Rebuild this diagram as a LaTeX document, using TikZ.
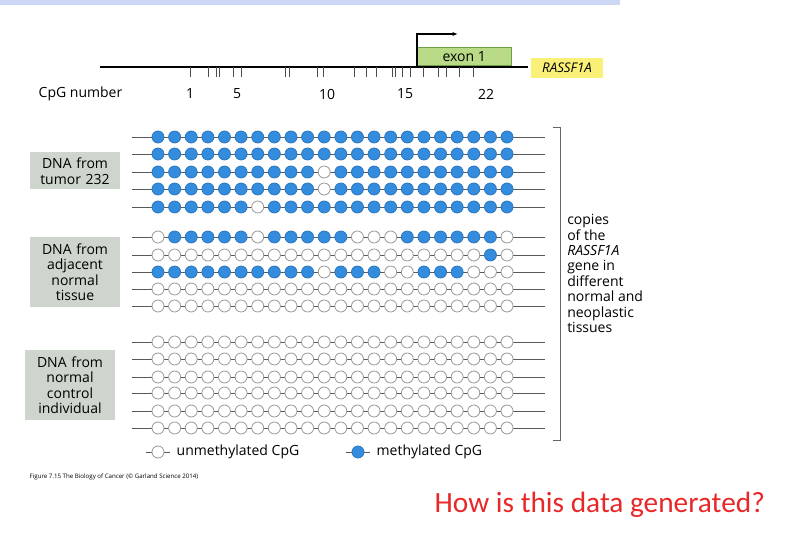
\documentclass[tikz,border=0pt]{standalone}
\usepackage{fontspec}
\usetikzlibrary{arrows.meta}
\setmainfont{Open Sans}
\newfontfamily\redfont{Carlito}
\definecolor{meth}{RGB}{52,140,222}
\definecolor{labbg}{RGB}{205,213,205}
\definecolor{exfill}{RGB}{185,218,135}
\definecolor{exdraw}{RGB}{110,160,70}
\definecolor{yel}{RGB}{250,240,120}
\definecolor{banner}{RGB}{205,215,245}
\definecolor{redq}{RGB}{232,40,40}
\tikzset{
  lab/.style={fill=labbg, align=center, font=\fontsize{10.5}{11.6}\selectfont, inner sep=1pt, text width=66pt},
  strand/.style={draw=black!65, line width=0.6pt},
  cpgU/.style={draw=black!40, fill=white, line width=0.6pt},
  cpgM/.style={draw=meth!85!black, fill=meth, line width=0.6pt},
  txt/.style={font=\fontsize{10.5}{12}\selectfont}
}
\newcommand{\cpgrow}[2]{%
  \draw[strand] (132,#1) -- (545,#1);
  \foreach \m [count=\i] in {#2} {
    \ifnum\m=1 \fill[cpgM] ({158+(\i-1)*16.62},#1) circle (6);
    \else \filldraw[cpgU] ({158+(\i-1)*16.62},#1) circle (6); \fi
  }%
}
\begin{document}
\begin{tikzpicture}[x=0.75pt,y=-0.75pt]
\useasboundingbox (0,0) rectangle (788,534);
\fill[banner] (0,0) rectangle (620,5);
% axis
\draw[line width=0.8pt] (100,67) -- (528,67);
\foreach \t in {190,208,216,219,233,241,285,289,317,323,354,366,376,392,395,402,410,423,438,446,459,473}
  \draw[line width=0.6pt, black!70] (\t,67) -- (\t,77);
\node[txt, anchor=west] (cpgnum) at (34,94) {CpG number};
\node[txt] (n1) at (190,94) {1};
\node[txt] (n5) at (237,94) {5};
\node[txt] (n10) at (327,94) {10};
\node[txt] (n15) at (405,94) {15};
\node[txt] (n22) at (486,94) {22};
\node[fill=exfill, draw=exdraw, minimum width=94*0.75pt, minimum height=18*0.75pt, inner sep=0pt, txt, anchor=north west] (exon) at (417,47) {exon 1};
\coordinate (ps) at (417,67);
\coordinate (pt) at (417,34);
\coordinate (pe) at (458,34);
\draw[line width=0.9pt, -{Latex[length=4pt]}] (ps) -- (pt) -- (pe);
\node[fill=yel, txt, font=\fontsize{10}{11}\selectfont\itshape, minimum width=72*0.75pt, minimum height=20*0.75pt, inner sep=0pt] (gene) at (567,68) {RASSF1A};
% rows
\cpgrow{137}{1,1,1,1,1,1,1,1,1,1,1,1,1,1,1,1,1,1,1,1,1,1}
\cpgrow{154}{1,1,1,1,1,1,1,1,1,1,1,1,1,1,1,1,1,1,1,1,1,1}
\cpgrow{172}{1,1,1,1,1,1,1,1,1,1,0,1,1,1,1,1,1,1,1,1,1,1}
\cpgrow{189}{1,1,1,1,1,1,1,1,1,1,0,1,1,1,1,1,1,1,1,1,1,1}
\cpgrow{207}{1,1,1,1,1,1,0,1,1,1,1,1,1,1,1,1,1,1,1,1,1,1}
\cpgrow{237}{0,1,1,1,1,1,0,1,1,1,1,1,0,0,0,1,1,1,1,1,1,0}
\cpgrow{255}{0,0,0,0,0,0,0,0,0,0,0,0,0,0,0,0,0,0,0,0,1,0}
\cpgrow{272}{1,1,1,1,1,1,1,1,1,1,0,1,1,1,0,0,1,1,1,0,0,0}
\cpgrow{289}{0,0,0,0,0,0,0,0,0,0,0,0,0,0,0,0,0,0,0,0,0,0}
\cpgrow{306}{0,0,0,0,0,0,0,0,0,0,0,0,0,0,0,0,0,0,0,0,0,0}
\foreach \yy in {342,359,377,393,411,428}
  {\cpgrow{\yy}{0,0,0,0,0,0,0,0,0,0,0,0,0,0,0,0,0,0,0,0,0,0}}
% labels
\node[lab, minimum height=37*0.75pt] (tumor) at (75,171) {DNA from\\tumor 232};
\node[lab, minimum height=70*0.75pt] (adj) at (75,272) {DNA from\\adjacent\\normal\\tissue};
\node[lab, minimum height=70*0.75pt] (norm) at (70,385) {DNA from\\normal\\control\\individual};
% bracket
\draw[line width=0.7pt, black!60] (553,127) -- (560,127) -- (560,440) -- (553,440);
\node[anchor=north west, align=left, inner sep=0pt, font=\fontsize{10.5}{11.6}\selectfont] (copies) at (567,214) {copies\\of the\\\textit{RASSF1A}\\gene in\\different\\normal and\\neoplastic\\tissues};
% legend
\coordinate (l1a) at (146,452); \coordinate (l1b) at (170,452);
\draw[strand] (l1a) -- (l1b);
\filldraw[cpgU] (158,452) circle (6);
\node[txt, anchor=west] (lu) at (172,452) {unmethylated CpG};
\coordinate (l2a) at (346,452); \coordinate (l2b) at (370,452);
\draw[strand] (l2a) -- (l2b);
\fill[cpgM] (358,452) circle (6);
\node[txt, anchor=west] (lm) at (372,452) {methylated CpG};
\node[anchor=west, font=\fontsize{4.6}{5}\selectfont] (cap) at (25,477) {Figure 7.15 The Biology of Cancer (© Garland Science 2014)};
\node[anchor=west, text=redq, font=\redfont\fontsize{22}{26}\selectfont] (q) at (430,505) {How is this data generated?};
\end{tikzpicture}
\end{document}
